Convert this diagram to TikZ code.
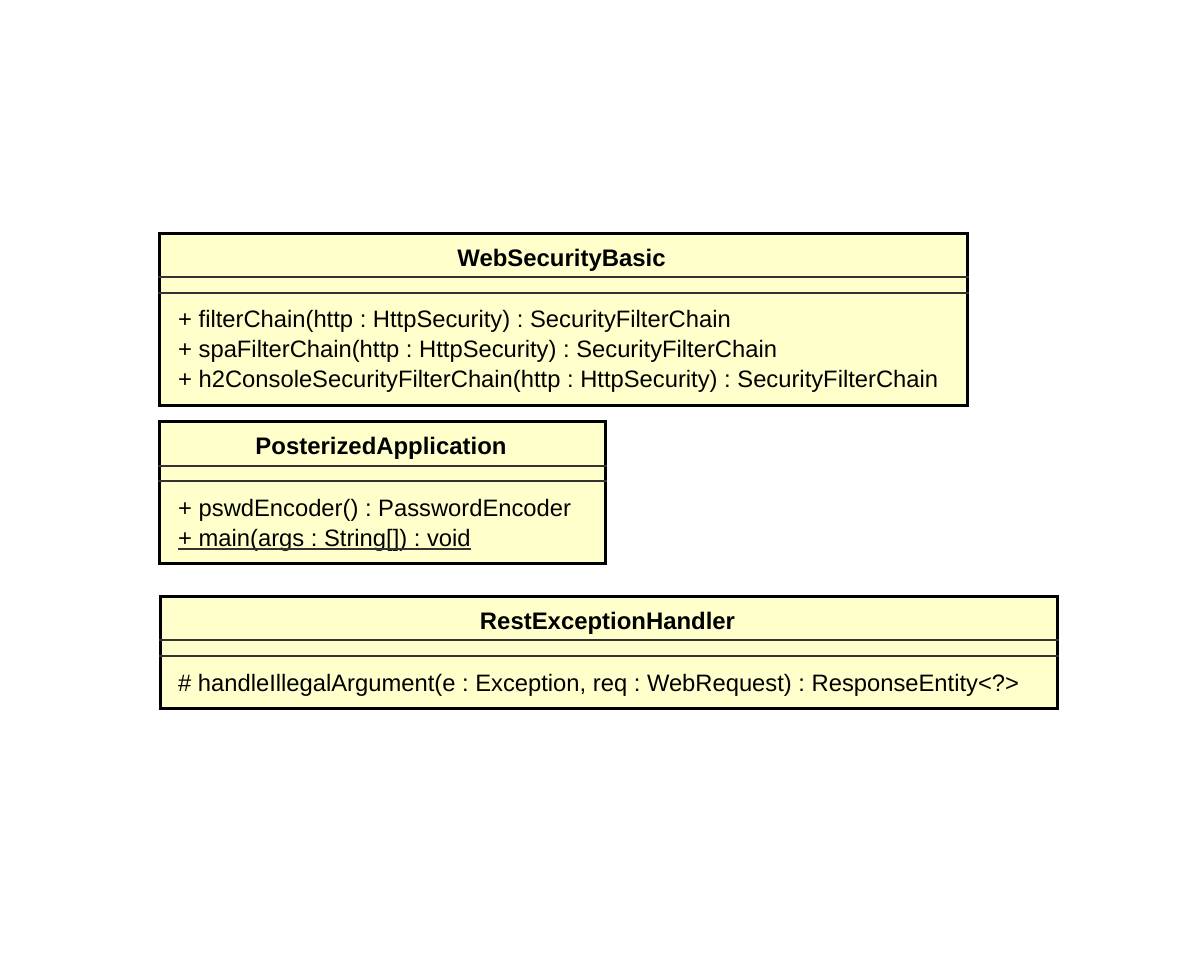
\documentclass[tikz,border=0pt]{standalone}
\usepackage{fontspec}
\setmainfont{Liberation Sans}
\definecolor{umlfill}{HTML}{FFFFCC}
\definecolor{sepcol}{HTML}{333333}
\begin{document}
\frenchspacing
\begin{tikzpicture}[x=1bp,y=-1bp,
  cls/.style={draw=black, line width=3bp, fill=umlfill, inner sep=0, anchor=north west},
  sepline/.style={line width=1.3bp, draw=sepcol},
  member/.style={anchor=base west, inner sep=0, font=\fontsize{23.85}{28}\selectfont},
  title/.style={anchor=base, inner sep=0, font=\bfseries\fontsize{24}{28}\selectfont}]
\useasboundingbox (0,0) rectangle (1204,958);
% WebSecurityBasic
\node[cls, minimum width=808bp, minimum height=172bp] (wsb) at (157.5,232) {};
\draw[sepline] ([yshift=-45bp]wsb.north west) -- ([yshift=-45bp]wsb.north east);
\draw[sepline] ([yshift=-61bp]wsb.north west) -- ([yshift=-61bp]wsb.north east);
\node[title] (wsbt) at (561.5,266) {WebSecurityBasic};
\node[member] (wsb1) at (178,327) {+ filterChain(http : HttpSecurity) : SecurityFilterChain};
\node[member] (wsb2) at (178,357) {+ spaFilterChain(http : HttpSecurity) : SecurityFilterChain};
\node[member] (wsb3) at (178,387) {+ h2ConsoleSecurityFilterChain(http : HttpSecurity) : SecurityFilterChain};
% PosterizedApplication
\node[cls, minimum width=446bp, minimum height=142bp] (pa) at (157.5,420) {};
\draw[sepline] ([yshift=-46bp]pa.north west) -- ([yshift=-46bp]pa.north east);
\draw[sepline] ([yshift=-61bp]pa.north west) -- ([yshift=-61bp]pa.north east);
\node[title] (pat) at (381,454) {PosterizedApplication};
\node[member] (pa1) at (178,516) {+ pswdEncoder() : PasswordEncoder};
\node[member] (pa2) at (178,546) {+ main(args : String[]) : void};
\draw[line width=1.3bp, draw=sepcol] ([yshift=-3bp]pa2.base west) -- ([yshift=-3bp]pa2.base east);
% RestExceptionHandler
\node[cls, minimum width=897bp, minimum height=112bp] (reh) at (158.5,595) {};
\draw[sepline] ([yshift=-45bp]reh.north west) -- ([yshift=-45bp]reh.north east);
\draw[sepline] ([yshift=-61bp]reh.north west) -- ([yshift=-61bp]reh.north east);
\node[title] (reht) at (607.5,629) {RestExceptionHandler};
\node[member] (reh1) at (178,691) {\# handleIllegalArgument(e : Exception, req : WebRequest) : ResponseEntity<?>};
\end{tikzpicture}
\end{document}
